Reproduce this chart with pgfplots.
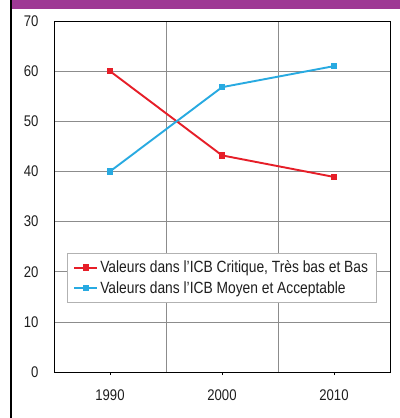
\documentclass[border=0pt]{standalone}
\usepackage{pgfplots}
\pgfplotsset{compat=1.18}
\usepackage{fontspec}
\setmainfont{Liberation Sans}[FakeStretch=0.85]
\definecolor{band}{RGB}{158,56,148}
\definecolor{redl}{RGB}{230,30,40}
\definecolor{bluel}{RGB}{40,170,225}
\definecolor{txt}{RGB}{30,30,30}
\begin{document}
\begin{tikzpicture}[x=1bp,y=1bp]
\useasboundingbox (0,0) rectangle (400,418);
\fill[white] (0,0) rectangle (400,418);
\fill[band] (12,409) rectangle (400,418);
\draw[black,line width=2bp] (11,0) -- (11,418);
\begin{axis}[
  at={(54bp,46bp)}, anchor=south west,
  width=336bp, height=351bp, scale only axis,
  xmin=-0.5, xmax=2.5, ymin=0, ymax=70,
  xtick={0,1,2}, xticklabels={1990,2000,2010},
  minor xtick={0.5,1.5}, xminorgrids,
  ytick={0,10,...,70}, ymajorgrids,
  grid style={draw=black!45, line width=0.6bp},
  minor grid style={draw=black!45, line width=0.6bp},
  axis line style={line width=0.9bp},
  xtick style={black, line width=1bp}, tick align=outside,
  xtick pos=lower,
  major tick length=3bp, minor tick length=0pt,
  ytick style={draw=none},
  /pgf/number format/assume math mode=true,
  tick label style={font=\fontsize{15.5}{18}\selectfont, text=txt},
  yticklabel style={xshift=-9bp},
  xticklabel style={yshift=-11bp},
  legend style={at={(0.039,0.197)}, anchor=south west, draw=black!30,
    font=\fontsize{16.3}{19}\selectfont, text=txt,
    inner xsep=6bp, inner ysep=6bp, row sep=3bp},
  legend cell align=left,
  legend image code/.code={
    \draw[mark repeat=2, mark phase=2, #1, line width=2bp]
      plot coordinates {(0bp,0bp) (11.5bp,0bp) (23bp,0bp)};
  },
]
\addplot[redl, line width=1.9bp, mark=square*, mark size=2.2bp] coordinates {(0,60) (1,43.2) (2,38.9)};
\addlegendentry{Valeurs dans l’ICB Critique, Très bas et Bas}
\addplot[bluel, line width=1.9bp, mark=square*, mark size=2.2bp] coordinates {(0,40) (1,56.8) (2,61)};
\addlegendentry{Valeurs dans l’ICB Moyen et Acceptable}
\end{axis}
\end{tikzpicture}
\end{document}
